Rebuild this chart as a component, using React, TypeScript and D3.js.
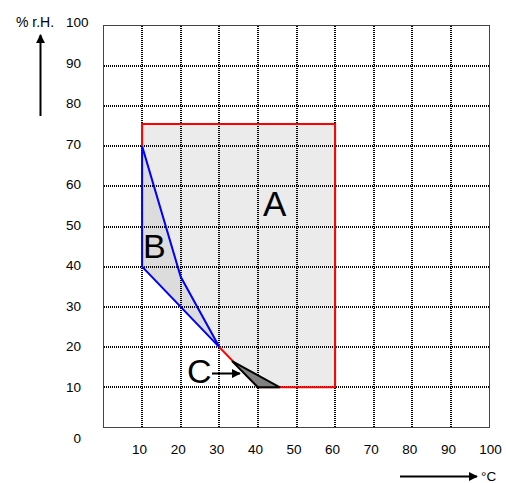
import React from "react";
import * as d3 from "d3";

const xTicks = [10, 20, 30, 40, 50, 60, 70, 80, 90, 100];
const yTicks = [0, 10, 20, 30, 40, 50, 60, 70, 80, 90, 100];
const gridValues = [10, 20, 30, 40, 50, 60, 70, 80, 90];

const regionA: [number, number][] = [
  [10, 75.5], [60, 75.5], [60, 10], [40, 10], [30, 20], [20, 37.5], [10, 70],
];
const regionB: [number, number][] = [
  [10, 70], [10, 40], [30, 20], [20, 37.5],
];
const regionC: [number, number][] = [
  [33.3, 16.5], [40, 10], [45.7, 10],
];
const redOutline: [number, number][] = [
  [10, 70], [10, 75.5], [60, 75.5], [60, 10], [40, 10], [30, 20],
];
const labels = [
  { text: "A", x: 263, y: 216, size: 35 },
  { text: "B", x: 143, y: 258, size: 34 },
  { text: "C", x: 187, y: 383, size: 34 },
];

export default function App() {
  const W = 506, H = 483;
  const x = d3.scaleLinear().domain([0, 100]).range([103.5, 489.5]);
  const y = d3.scaleLinear().domain([0, 100]).range([427.5, 25.5]);
  const yLab = d3.scaleLinear().domain([10, 100]).range([387, 22]);
  const line = d3.line<[number, number]>().x((d) => x(d[0])).y((d) => y(d[1]));
  const poly = (pts: [number, number][]) => line(pts) + "Z";
  const font = "Liberation Sans, Arial, sans-serif";
  const fs = 13.5;

  return (
    <svg width={W} height={H} style={{ position: "absolute", left: 0, top: 0 }}>
      <defs>
        <marker id="ah" viewBox="0 0 10 10" refX="9" refY="5" markerWidth="4.5" markerHeight="4.5" orient="auto">
          <path d="M0,0 L10,5 L0,10 Z" fill="#000" />
        </marker>
      </defs>
      <rect x={0} y={0} width={W} height={H} fill="#fff" />
      <path d={poly(regionA)} fill="#ebebeb" stroke="none" />
      <path d={poly(regionB)} fill="#dcdcdc" stroke="none" />
      {gridValues.map((v) => (
        <line key={"v" + v} x1={Math.round(x(v))} x2={Math.round(x(v))} y1={427} y2={26} stroke="#000" strokeWidth={2} strokeDasharray="1,1" />
      ))}
      {gridValues.map((v) => (
        <line key={"h" + v} x1={104} x2={489} y1={Math.round(y(v))} y2={Math.round(y(v))} stroke="#000" strokeWidth={2} strokeDasharray="1,1" />
      ))}
      <rect x={x(0)} y={y(100)} width={x(100) - x(0)} height={y(0) - y(100)} fill="none" stroke="#444" strokeWidth={1} />
      <path d={line(redOutline) || ""} fill="none" stroke="#ff0000" strokeWidth={2} />
      <path d={poly(regionB)} fill="none" stroke="#0000ff" strokeWidth={2} strokeLinejoin="miter" />
      <path d={poly(regionC)} fill="#808080" stroke="#000" strokeWidth={2} strokeLinejoin="miter" />
      {labels.map((l) => (
        <text key={l.text} x={l.x} y={l.y} fontSize={l.size} fontFamily={font} fill="#000">{l.text}</text>
      ))}
      <line x1={212} y1={373.5} x2={240} y2={373.5} stroke="#000" strokeWidth={2} markerEnd="url(#ah)" />
      {yTicks.map((v) =>
        v === 100 ? (
          <text key={"yl" + v} x={66} y={27} fontSize={fs} fontFamily={font} textAnchor="start">{v}</text>
        ) : (
          <text key={"yl" + v} x={81} y={v === 0 ? 443 : yLab(v) + 5} fontSize={fs} fontFamily={font} textAnchor="end">{v}</text>
        )
      )}
      {xTicks.map((v) => (
        <text key={"xl" + v} x={v === 100 ? x(v) + 1 : x(v) - 2.5} y={453.5} fontSize={fs} fontFamily={font} textAnchor="middle">{v}</text>
      ))}
      <text x={16} y={27} fontSize={14} fontFamily={font}>% r.H.</text>
      <line x1={40.5} y1={116} x2={40.5} y2={35} stroke="#000" strokeWidth={2} markerEnd="url(#ah)" />
      <line x1={400} y1={476.5} x2={477} y2={476.5} stroke="#000" strokeWidth={2} markerEnd="url(#ah)" />
      <text x={481} y={481} fontSize={fs} fontFamily={font}>°C</text>
    </svg>
  );
}
